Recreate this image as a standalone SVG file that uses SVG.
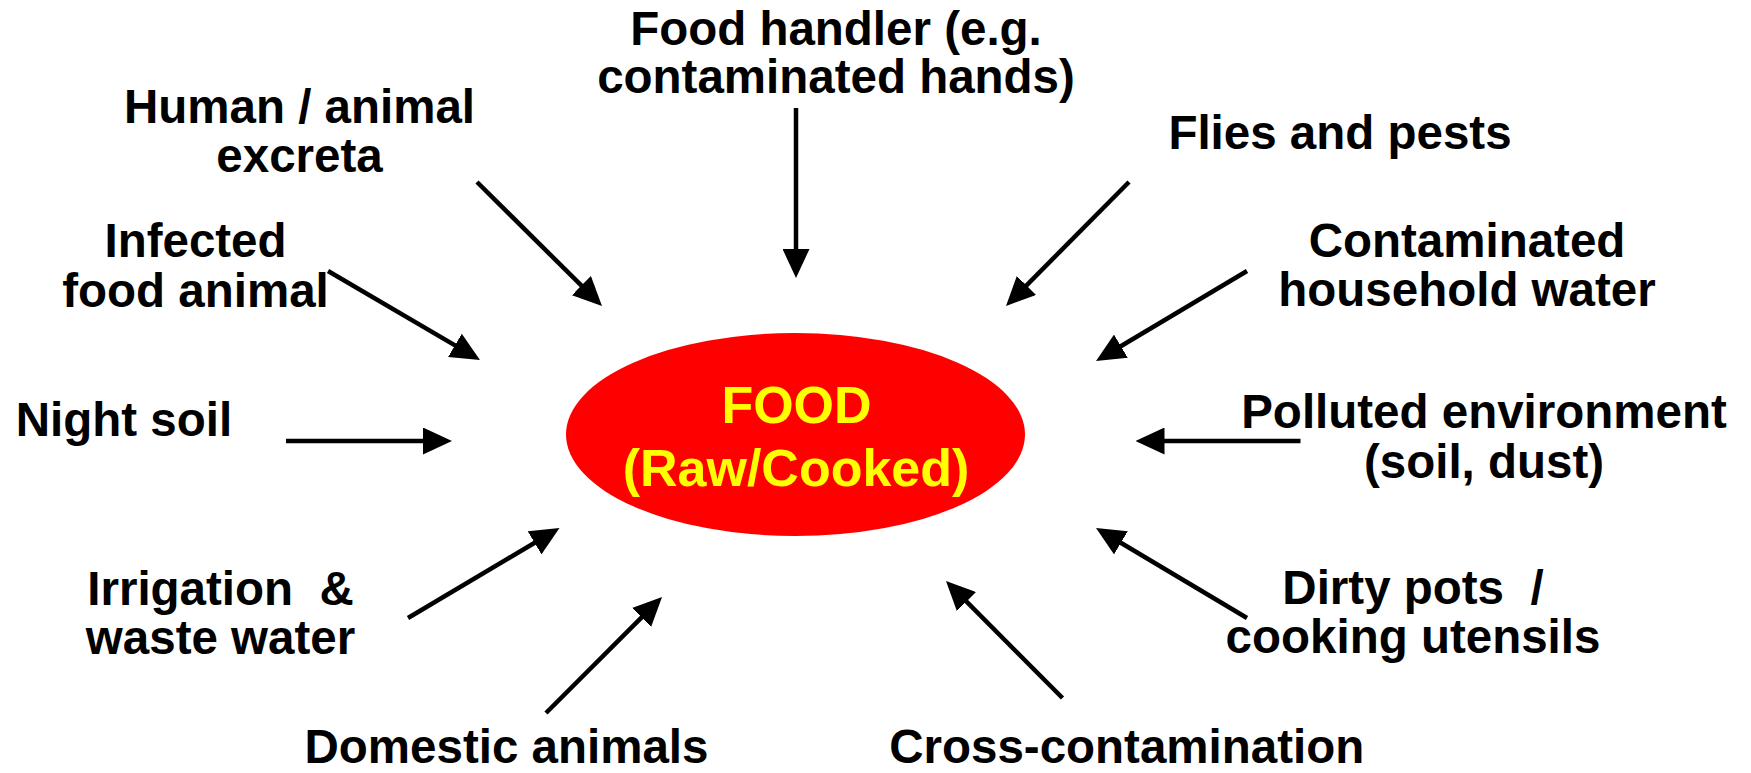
<svg xmlns="http://www.w3.org/2000/svg" width="1751" height="773" viewBox="0 0 1751 773">
<style>
  .lbl { font-family: "Liberation Sans", Arial, sans-serif; font-weight: bold; font-size: 47.5px; fill: #000; text-anchor: middle; white-space: pre; }
  .core { font-family: "Liberation Sans", Arial, sans-serif; font-weight: bold; font-size: 52px; fill: #FFFF00; text-anchor: middle; }
  .arr { stroke: #000; stroke-width: 4.5; fill: none; marker-end: url(#ah); }
</style>
<defs>
  <marker id="ah" markerUnits="userSpaceOnUse" markerWidth="29" markerHeight="27" refX="9" refY="13.5" orient="auto" viewBox="0 0 29 27">
    <path d="M0,0 L29,13.5 L0,27 z" fill="#000"/>
  </marker>
</defs>
<rect width="1751" height="773" fill="#fff"/>

<g id="food">
  <ellipse cx="795.5" cy="434.5" rx="229.5" ry="101.5" fill="#FF0000"/>
  <text class="core" x="796.5" y="423.3">FOOD</text>
  <text class="core" x="796" y="486">(Raw/Cooked)</text>
</g>

<g id="food-handler">
  <text class="lbl" x="836" y="45">Food handler (e.g.</text>
  <text class="lbl" x="836" y="93.3">contaminated hands)</text>
</g>
<g id="excreta">
  <text class="lbl" x="299.5" y="123.3">Human / animal</text>
  <text class="lbl" x="299.5" y="171.7">excreta</text>
</g>
<g id="infected-animal">
  <text class="lbl" x="195.5" y="256.5">Infected</text>
  <text class="lbl" x="195.5" y="306.7">food animal</text>
</g>
<g id="night-soil">
  <text class="lbl" x="124" y="436">Night soil</text>
</g>
<g id="irrigation">
  <text class="lbl" x="220.5" y="605">Irrigation  &amp;</text>
  <text class="lbl" x="220.5" y="654">waste water</text>
</g>
<g id="domestic-animals">
  <text class="lbl" x="506.5" y="763">Domestic animals</text>
</g>
<g id="cross-contamination">
  <text class="lbl" x="1126.7" y="763">Cross-contamination</text>
</g>
<g id="dirty-pots">
  <text class="lbl" x="1413" y="604">Dirty pots  /</text>
  <text class="lbl" x="1413" y="653.3">cooking utensils</text>
</g>
<g id="polluted-environment">
  <text class="lbl" x="1484" y="428.3">Polluted environment</text>
  <text class="lbl" x="1484" y="478.3">(soil, dust)</text>
</g>
<g id="household-water">
  <text class="lbl" x="1467" y="256.7">Contaminated</text>
  <text class="lbl" x="1467" y="306">household water</text>
</g>
<g id="flies-pests">
  <text class="lbl" x="1340" y="149">Flies and pests</text>
</g>

<g id="connectors">
  <line class="arr" x1="796" y1="108" x2="796" y2="258"/>
  <line class="arr" x1="477" y1="182" x2="587.8" y2="291.9"/>
  <line class="arr" x1="328" y1="271" x2="462.7" y2="349.9"/>
  <line class="arr" x1="286" y1="441" x2="432" y2="441"/>
  <line class="arr" x1="408" y1="618" x2="542.3" y2="538.2"/>
  <line class="arr" x1="546" y1="713" x2="647.9" y2="611.1"/>
  <line class="arr" x1="1062.5" y1="698" x2="960.1" y2="595.2"/>
  <line class="arr" x1="1247" y1="618" x2="1113.2" y2="538.2"/>
  <line class="arr" x1="1300.5" y1="441" x2="1155.5" y2="441"/>
  <line class="arr" x1="1247" y1="271" x2="1113.2" y2="350.8"/>
  <line class="arr" x1="1129" y1="182" x2="1020.1" y2="291.8"/>
</g>
</svg>
